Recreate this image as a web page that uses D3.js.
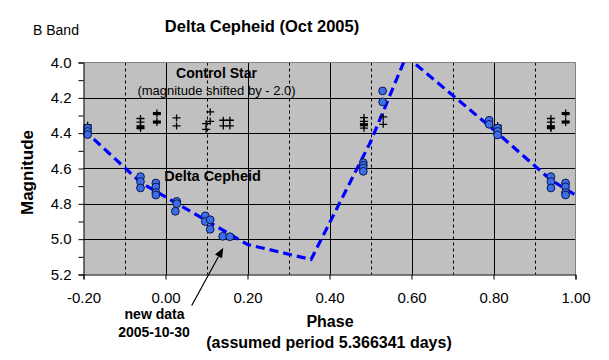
<!DOCTYPE html>
<html><head><meta charset="utf-8">
<script src="https://cdn.jsdelivr.net/npm/d3@7"></script>
<style>
html,body{margin:0;padding:0;background:#fff;}
svg{display:block;font-family:Arial,"Liberation Sans",sans-serif;}
</style></head>
<body><svg id="c" width="609" height="360"></svg>
<script>
// ---- data ----
const phaseTicks = [-0.2, 0.0, 0.2, 0.4, 0.6, 0.8, 1.0];
const phaseMinor = [-0.1, 0.1, 0.3, 0.5, 0.7, 0.9];
const magTicks = [4.0, 4.2, 4.4, 4.6, 4.8, 5.0, 5.2];
const magMinor = [4.1, 4.3, 4.5, 4.7, 4.9, 5.1];

// Delta Cephei observations
const cepPhase = [-0.19,-0.19,-0.19, -0.061,-0.061,-0.061, -0.0235,-0.0235,-0.0235,-0.0235,
  0.0275,0.0275,0.024, 0.097,0.097,0.109,0.109, 0.1395,0.157,
  0.4824,0.4824,0.4824,0.4824, 0.5296,0.5296,
  0.7894,0.7894, 0.81,0.81,0.81, 0.94,0.94,0.94, 0.9757,0.9757,0.9757,0.9757];
const cepMag = [4.371,4.39,4.408, 4.646,4.674,4.71, 4.682,4.704,4.736,4.75,
  4.786,4.799,4.842, 4.868,4.90,4.89,4.944, 4.984,4.986,
  4.567,4.582,4.598,4.616, 4.161,4.223,
  4.327,4.35, 4.371,4.39,4.41, 4.646,4.674,4.71, 4.682,4.704,4.736,4.75];

// Control star (magnitude shifted by -2.0), plus markers
const ctrlPhase = [-0.061,-0.061,-0.061, 0.027,0.027, 0.099,0.099, 0.109,0.109,
  0.141,0.141, 0.157,0.157, 0.484,0.484,0.484, 0.531,0.531, 0.81, 0.94,0.94,0.94];
const ctrlMag = [4.317,4.337,4.374, 4.314,4.359, 4.346,4.378, 4.28,4.333,
  4.327,4.359, 4.327,4.359, 4.312,4.333,4.372, 4.308,4.35, 4.38, 4.317,4.337,4.374];
// Control star, dash markers
const ctrl2Phase = [-0.19, -0.061, -0.021,-0.021, 0.484, 0.81, 0.94, 0.976,0.976];
const ctrl2Mag = [4.358, 4.364, 4.289,4.337, 4.352, 4.36, 4.364, 4.289,4.337];

// model light curve (dashed)
const modelPhase = [-0.2, -0.06, 0.2, 0.355, 0.5, 0.587, 0.8, 0.94, 1.0];
const modelMag = [4.38, 4.68, 5.03, 5.115, 4.45, 3.965, 4.38, 4.665, 4.75];

// annotation arrow (tail -> head)
const arrowPhase = [0.064, 0.141];
const arrowMag = [5.375, 5.048];

// ---- chart ----
const svg = d3.select("#c");
const L = 83.5, R = 575.5, T = 62.5, B = 274.5;
const x = d3.scaleLinear().domain([-0.2, 1.0]).range([L, R]);
const y = d3.scaleLinear().domain([4.0, 5.2]).range([T, B]);

svg.append("defs").append("clipPath").attr("id", "clip")
  .append("rect").attr("x", L).attr("y", T).attr("width", R - L).attr("height", B - T);

svg.append("rect").attr("x", L).attr("y", T).attr("width", R - L).attr("height", B - T)
  .attr("fill", "#c0c0c0");

const grid = svg.append("g");
magTicks.slice(1, -1).forEach(m => grid.append("line")
  .attr("x1", L).attr("x2", R).attr("y1", Math.round(y(m)) + 0.5).attr("y2", Math.round(y(m)) + 0.5)
  .attr("stroke", "#000").attr("stroke-width", 1));
phaseTicks.slice(1, -1).forEach(p => grid.append("line")
  .attr("x1", Math.round(x(p)) + 0.5).attr("x2", Math.round(x(p)) + 0.5).attr("y1", T).attr("y2", B)
  .attr("stroke", "#000").attr("stroke-width", 1));
phaseMinor.forEach(p => grid.append("line")
  .attr("x1", Math.round(x(p)) + 0.5).attr("x2", Math.round(x(p)) + 0.5).attr("y1", T).attr("y2", B)
  .attr("stroke", "#000").attr("stroke-width", 1).attr("stroke-dasharray", "3,3"));

// border top/right
svg.append("path").attr("d", `M${L},${T}H${R}V${B}`).attr("fill", "none")
  .attr("stroke", "#808080").attr("stroke-width", 1);

// model line
const model = modelPhase.map((p, i) => [p, modelMag[i]]);
svg.append("path").attr("clip-path", "url(#clip)")
  .attr("d", d3.line().x(d => x(d[0])).y(d => y(d[1]))(model))
  .attr("fill", "none").attr("stroke", "#0000ff").attr("stroke-width", 3.2)
  .attr("stroke-dasharray", "9,5");

// control star markers
const cs = svg.append("g");
ctrlPhase.forEach((p, i) => {
  cs.append("path").attr("transform", `translate(${x(p)},${y(ctrlMag[i])})`)
    .attr("d", "M-4,0H4M0,-3.5V3.5").attr("stroke", "#000").attr("stroke-width", 1.3).attr("fill", "none");
});
ctrl2Phase.forEach((p, i) => {
  const g = cs.append("g").attr("transform", `translate(${x(p)},${y(ctrl2Mag[i])})`);
  g.append("path").attr("d", "M0,-4V4").attr("stroke", "#000").attr("stroke-width", 1.3);
  g.append("rect").attr("x", -4).attr("y", -1.6).attr("width", 8).attr("height", 3.2).attr("fill", "#000");
});

// Delta Cephei markers
svg.append("g").selectAll("circle").data(cepPhase.map((p, i) => [p, cepMag[i]])).join("circle")
  .attr("cx", d => x(d[0])).attr("cy", d => y(d[1])).attr("r", 3.9)
  .attr("fill", "#3d6ee8").attr("stroke", "#0a1850").attr("stroke-width", 1);

// axes
const fmtY = d => d.toFixed(1);
const fmtX = d => d.toFixed(2);
const yAxis = svg.append("g").attr("transform", `translate(${L},0)`)
  .call(d3.axisLeft(y).tickValues(magTicks).tickFormat(fmtY).tickSize(5).tickPadding(7));
const yMinor = svg.append("g").attr("transform", `translate(${L},0)`)
  .call(d3.axisLeft(y).tickValues(magMinor).tickFormat("").tickSize(5));
yMinor.select(".domain").remove();
const xAxis = svg.append("g").attr("transform", `translate(0,${B})`)
  .call(d3.axisBottom(x).tickValues(phaseTicks).tickFormat(fmtX).tickSize(5).tickPadding(12.5));
[yAxis, yMinor, xAxis].forEach(a => {
  a.selectAll("path.domain").attr("stroke", "#000").attr("stroke-width", 1);
  a.selectAll(".tick line").attr("stroke", "#000");
  a.selectAll("text").attr("fill", "#000").style("font-size", "15px")
    .style("font-family", "Arial, 'Liberation Sans', sans-serif");
});

// texts
svg.append("text").attr("x", 262).attr("y", 32.3).attr("text-anchor", "middle")
  .style("font-size", "16.5px").style("font-weight", "bold").text("Delta Cepheid (Oct 2005)");
svg.append("text").attr("x", 33).attr("y", 35).style("font-size", "14px").text("B Band");
svg.append("text").attr("transform", "translate(32.5,172.5) rotate(-90)").attr("text-anchor", "middle")
  .style("font-size", "17px").style("font-weight", "bold").text("Magnitude");
svg.append("text").attr("x", 330).attr("y", 326.5).attr("text-anchor", "middle")
  .style("font-size", "16px").style("font-weight", "bold").text("Phase");
svg.append("text").attr("x", 329).attr("y", 348.3).attr("text-anchor", "middle")
  .style("font-size", "16px").style("font-weight", "bold").text("(assumed period 5.366341 days)");
svg.append("text").attr("x", 216.5).attr("y", 78.3).attr("text-anchor", "middle")
  .style("font-size", "14px").style("font-weight", "bold").text("Control Star");
svg.append("text").attr("x", 216.5).attr("y", 95).attr("text-anchor", "middle")
  .style("font-size", "13px").text("(magnitude shifted by - 2.0)");
svg.append("text").attr("x", 212.5).attr("y", 181).attr("text-anchor", "middle")
  .style("font-size", "14.5px").style("font-weight", "bold").text("Delta Cepheid");
svg.append("text").attr("x", 154.5).attr("y", 319).attr("text-anchor", "middle")
  .style("font-size", "14px").style("font-weight", "bold").text("new data");
svg.append("text").attr("x", 154).attr("y", 337.3).attr("text-anchor", "middle")
  .style("font-size", "14px").style("font-weight", "bold").text("2005-10-30");

// arrow
const ax0 = x(arrowPhase[0]), ay0 = y(arrowMag[0]), ax1 = x(arrowPhase[1]), ay1 = y(arrowMag[1]);
const ang = Math.atan2(ay1 - ay0, ax1 - ax0);
const hl = 10, hw = 4;
const bx = ax1 - hl * Math.cos(ang), by = ay1 - hl * Math.sin(ang);
svg.append("line").attr("x1", ax0).attr("y1", ay0).attr("x2", bx).attr("y2", by)
  .attr("stroke", "#000").attr("stroke-width", 1.2);
svg.append("path").attr("d", `M${ax1},${ay1}L${bx + hw * Math.sin(ang)},${by - hw * Math.cos(ang)}L${bx - hw * Math.sin(ang)},${by + hw * Math.cos(ang)}Z`)
  .attr("fill", "#000");
</script></body></html>
